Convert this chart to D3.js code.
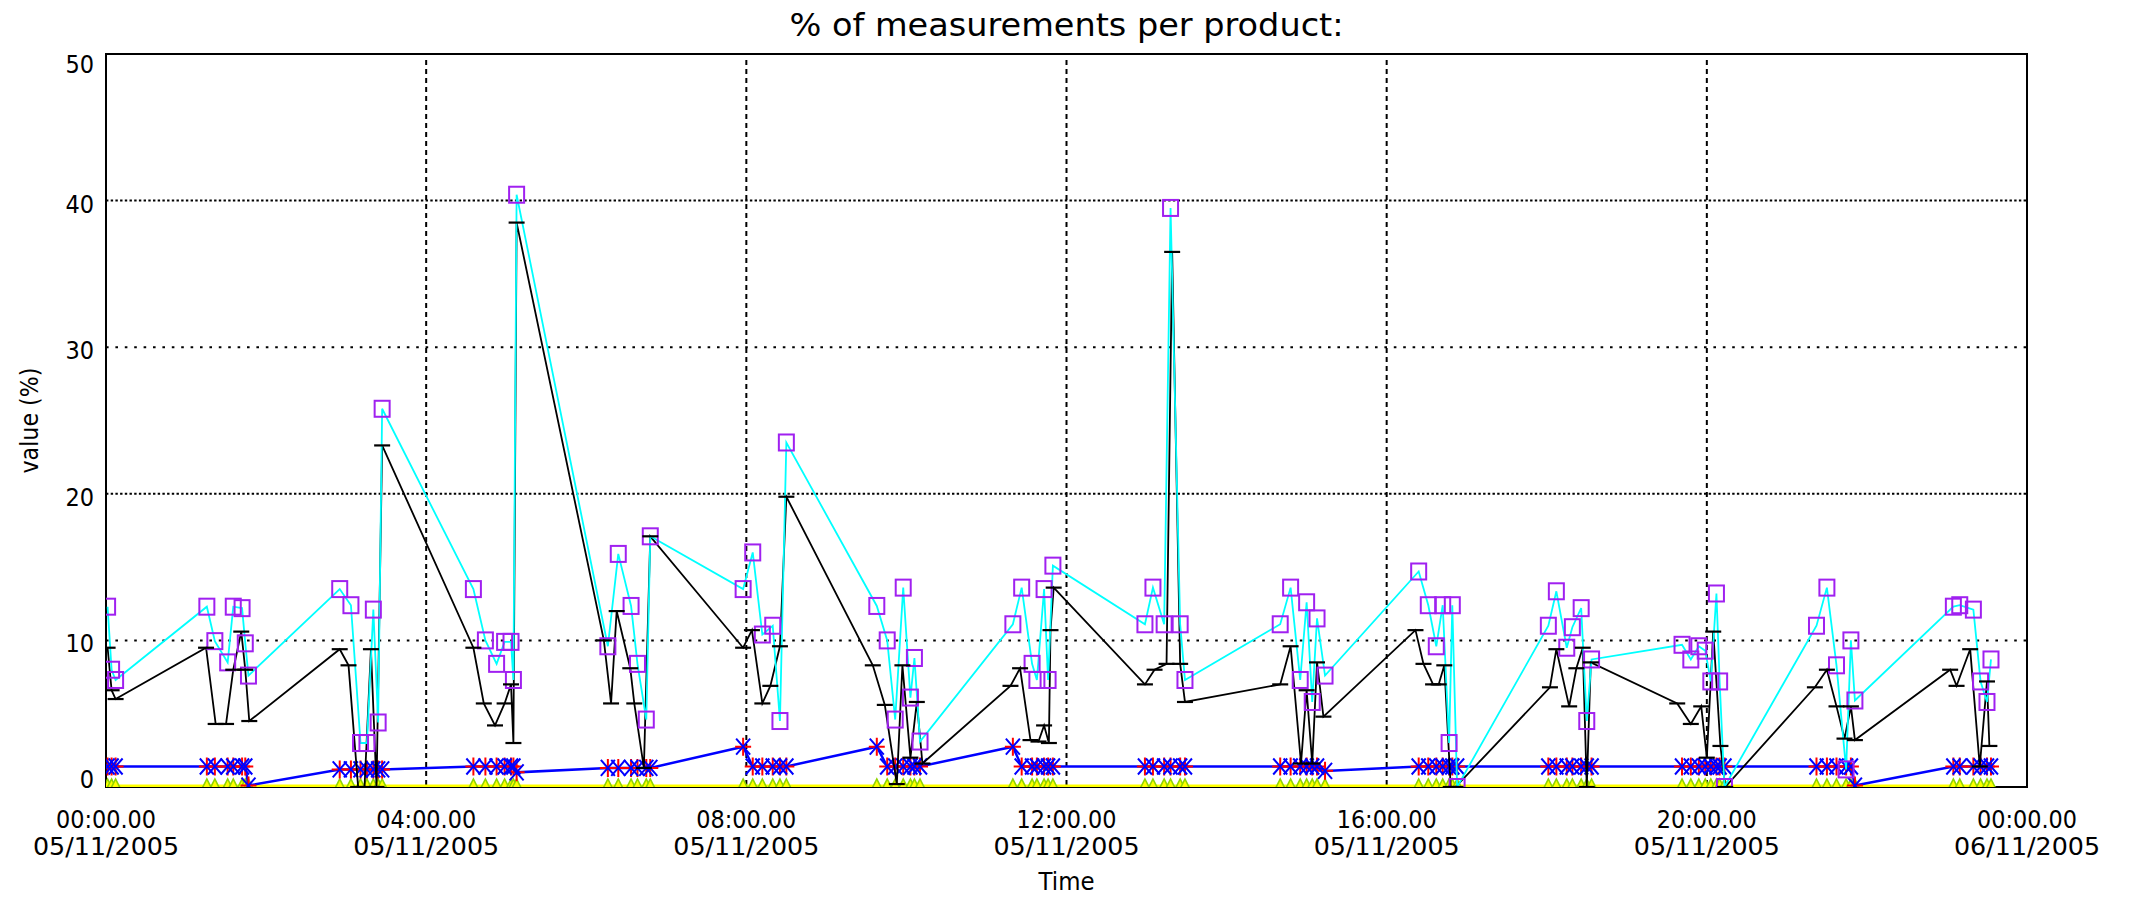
<!DOCTYPE html>
<html>
<head>
<meta charset="utf-8">
<title>% of measurements per product</title>
<script src="https://cdn.jsdelivr.net/npm/d3@7/dist/d3.min.js"></script>
<style>
  body { margin: 0; background: #fff; }
  svg { display: block; font-family: 'DejaVu Sans', sans-serif; }
</style>
</head>
<body>
<svg id="chart"></svg>
<script>
const width = 2129
const height = 910
const margin = { top: 54, right: 102, bottom: 123, left: 106 }

// sample times in hours after 00:00 on 05/11/2005 (one row per burst)
const sampleHours = [
  0.02, 0.07, 0.12,
  1.26, 1.36, 1.52, 1.59, 1.70, 1.74, 1.78,
  2.92, 3.06, 3.18, 3.26, 3.34, 3.40, 3.45,
  4.59, 4.74, 4.88, 4.98, 5.06, 5.09, 5.13,
  6.27, 6.40, 6.56, 6.64, 6.75, 6.80,
  7.96, 8.08, 8.20, 8.33, 8.42, 8.50,
  9.63, 9.76, 9.86, 9.96, 10.05, 10.10, 10.17,
  11.33, 11.44, 11.57, 11.63, 11.72, 11.77, 11.83,
  12.98, 13.08, 13.22, 13.30, 13.42, 13.48,
  14.67, 14.80, 14.92, 15.00, 15.07, 15.13, 15.23,
  16.40, 16.52, 16.62, 16.70, 16.78, 16.82, 16.88,
  18.02, 18.12, 18.25, 18.32, 18.43, 18.50, 18.56,
  19.69, 19.80, 19.90, 19.98, 20.05, 20.12, 20.16, 20.22,
  21.37, 21.50, 21.62, 21.74, 21.80, 21.85,
  23.08, 23.16, 23.33, 23.42, 23.50, 23.55
]

const cyanValues = [
  12.3, 8.0, 7.3,
  12.3, 9.95, 8.5, 12.3, 12.2, 9.8, 7.6,
  13.5, 12.4, 3.0, 3.0, 12.1, 4.4, 25.8,
  13.5, 10.0, 8.4, 9.9, 9.9, 7.3, 40.4,
  9.6, 15.9, 12.35, 8.4, 4.6, 17.1,
  13.5, 16.0, 10.4, 11.0, 4.5, 23.5,
  12.35, 10.0, 4.6, 13.6, 6.1, 8.8, 3.1,
  11.1, 13.6, 8.4, 7.3, 13.5, 7.3, 15.1,
  11.1, 13.6, 11.1, 39.5, 11.1, 7.3,
  11.1, 13.6, 7.3, 12.6, 5.8, 11.5, 7.6,
  14.7, 12.4, 9.6, 12.4, 3.0, 12.4, 0.0,
  11.0, 13.35, 9.5, 10.9, 12.2, 4.5, 8.7,
  9.7, 8.7, 9.6, 9.3, 7.2, 13.2, 7.2, 0.0,
  11.0, 13.6, 8.3, 1.2, 10.0, 5.9,
  12.3, 12.4, 12.1, 7.2, 5.8, 8.7
]

const blueValues = [
  1.4, 1.4, 1.4,
  1.4, 1.4, 1.4, 1.4, 1.4, 1.4, 0.1,
  1.2, 1.2, 1.2, 1.2, 1.2, 1.2, 1.2,
  1.4, 1.4, 1.4, 1.4, 1.4, 1.4, 1.0,
  1.3, 1.3, 1.3, 1.3, 1.3, 1.3,
  2.75, 1.4, 1.4, 1.4, 1.4, 1.4,
  2.75, 1.4, 1.4, 1.4, 1.4, 1.4, 1.4,
  2.75, 1.4, 1.4, 1.4, 1.4, 1.4, 1.4,
  1.4, 1.4, 1.4, 1.4, 1.4, 1.4,
  1.4, 1.4, 1.4, 1.4, 1.4, 1.4, 1.1,
  1.4, 1.4, 1.4, 1.4, 1.4, 1.4, 1.4,
  1.4, 1.4, 1.4, 1.4, 1.4, 1.4, 1.4,
  1.4, 1.4, 1.4, 1.4, 1.4, 1.4, 1.4, 1.4,
  1.4, 1.4, 1.4, 1.4, 1.4, 0.1,
  1.4, 1.4, 1.4, 1.4, 1.4, 1.4
]

const yellowValues = [
  0, 0, 0,
  0, 0, 0, 0, 0, 0, 0,
  0, 0, 0, 0, 0, 0, 0,
  0, 0, 0, 0, 0, 0, 0,
  0, 0, 0, 0, 0, 0,
  0, 0, 0, 0, 0, 0,
  0, 0, 0, 0, 0, 0, 0,
  0, 0, 0, 0, 0, 0, 0,
  0, 0, 0, 0, 0, 0,
  0, 0, 0, 0, 0, 0, 0,
  0, 0, 0, 0, 0, 0, 0,
  0, 0, 0, 0, 0, 0, 0,
  0, 0, 0, 0, 0, 0, 0, 0,
  0, 0, 0, 0, 0, 0,
  0, 0, 0, 0, 0, 0
]

const blackHours = [
  0.02, 0.07, 0.12,
  1.25, 1.37, 1.50, 1.59, 1.69, 1.74, 1.79,
  2.92, 3.03, 3.15, 3.23, 3.31, 3.38, 3.45,
  4.59, 4.72, 4.86, 4.98, 5.06, 5.09, 5.13,
  6.22, 6.31, 6.38, 6.55, 6.60, 6.72, 6.80,
  7.96, 8.07, 8.20, 8.30, 8.42, 8.50,
  9.58, 9.73, 9.88, 9.95, 10.05, 10.13, 10.20,
  11.30, 11.42, 11.55, 11.65, 11.72, 11.78, 11.80, 11.84,
  12.98, 13.10, 13.25, 13.32, 13.42, 13.48,
  14.67, 14.80, 14.93, 15.00, 15.07, 15.13, 15.21,
  16.36, 16.46, 16.58, 16.65, 16.72, 16.80, 16.86,
  18.04, 18.12, 18.28, 18.37, 18.45, 18.50, 18.55,
  19.63, 19.80, 19.93, 20.00, 20.08, 20.17, 20.23,
  21.35, 21.50, 21.62, 21.72, 21.80, 21.85,
  23.04, 23.12, 23.29, 23.41, 23.50, 23.53
]

const blackValues = [
  9.5, 6.6, 6.0,
  9.5, 4.3, 4.3, 8.0, 10.6, 8.0, 4.5,
  9.4, 8.3, 0.0, 0.0, 9.4, 0.0, 23.3,
  9.5, 5.7, 4.2, 5.7, 7.0, 3.0, 38.5,
  10.0, 5.7, 12.0, 8.1, 5.7, 1.3, 17.1,
  9.5, 10.7, 5.7, 6.9, 9.6, 19.8,
  8.3, 5.6, 0.2, 8.3, 2.0, 5.8, 1.6,
  6.9, 8.1, 3.2, 3.1, 4.2, 3.0, 10.7, 13.6,
  7.0, 8.0, 8.4, 36.5, 8.4, 5.8,
  7.0, 9.6, 1.6, 6.6, 1.6, 8.5, 4.8,
  10.7, 8.4, 7.0, 7.0, 8.3, 0.0, 0.0,
  6.8, 9.4, 5.5, 8.1, 9.5, 0.0, 8.5,
  5.7, 4.3, 5.5, 2.0, 10.6, 2.8, 0.0,
  6.8, 8.0, 5.5, 3.3, 5.5, 3.2,
  8.0, 6.9, 9.4, 1.4, 7.2, 2.8
]

const yTicks = [0, 10, 20, 30, 40, 50]
const titleText = '% of measurements per product:'
const xTitle = 'Time'
const yTitle = 'value (%)'

const start = new Date(2005, 10, 5)
const toTime = h => new Date(start.getTime() + h * 3600e3)

const x = d3.scaleTime()
  .domain([start, d3.timeDay.offset(start, 1)])
  .range([margin.left, width - margin.right])

const y = d3.scaleLinear()
  .domain([0, 50])
  .range([height - margin.bottom, margin.top])

const x0 = x.range()[0]
const x1 = x.range()[1]
const yBottom = y.range()[0]
const yTop = y.range()[1]

const samples = sampleHours.map((h, i) => ({
  t: toTime(h), cyan: cyanValues[i], blue: blueValues[i], yellow: yellowValues[i]
}))
const black = blackHours.map((h, i) => ({ t: toTime(h), v: blackValues[i] }))

const svg = d3.select('#chart')
  .attr('width', width)
  .attr('height', height)

svg.append('rect').attr('width', width).attr('height', height).attr('fill', '#fff')

svg.append('defs').append('clipPath').attr('id', 'plot-clip')
  .append('rect')
  .attr('x', x0).attr('y', yTop)
  .attr('width', x1 - x0).attr('height', yBottom - yTop)

// grid
const grid = svg.append('g').attr('stroke', '#000').attr('stroke-width', 2)

grid.selectAll('line.h')
  .data(yTicks.filter(v => v > 0 && v < 50))
  .enter().append('line')
  .attr('class', 'h')
  .attr('x1', x0).attr('x2', x1)
  .attr('y1', d => y(d)).attr('y2', d => y(d))
  .attr('stroke-dasharray', d => (d / 10) % 2 === 0 ? '2.4,2.3' : '2.6,6.8')

const hourTicks = x.ticks(d3.timeHour.every(4))

grid.selectAll('line.v')
  .data(hourTicks.slice(1, -1))
  .enter().append('line')
  .attr('class', 'v')
  .attr('x1', d => x(d)).attr('x2', d => x(d))
  .attr('y1', yTop + 6).attr('y2', yBottom)
  .attr('stroke-dasharray', '5,4')

// frame
svg.append('rect')
  .attr('x', x0).attr('y', yTop)
  .attr('width', x1 - x0).attr('height', yBottom - yTop)
  .attr('fill', 'none').attr('stroke', '#000').attr('stroke-width', 2)

const plot = svg.append('g').attr('clip-path', 'url(#plot-clip)')

const lineOf = key => d3.line().x(d => x(d.t)).y(d => y(d[key]))

// yellow series at zero
plot.append('path')
  .datum(samples)
  .attr('fill', 'none').attr('stroke', '#ffff00').attr('stroke-width', 5)
  .attr('d', lineOf('yellow'))

plot.append('g').selectAll('path')
  .data(samples)
  .enter().append('path')
  .attr('transform', d => `translate(${x(d.t)},${y(d.yellow)})`)
  .attr('d', 'M-8,8L0,-8L8,8Z')
  .attr('fill', '#ffff00').attr('stroke', '#8fd400').attr('stroke-width', 1.6)

// blue series with asterisks
plot.append('path')
  .datum(samples)
  .attr('fill', 'none').attr('stroke', '#0000ff').attr('stroke-width', 2.5)
  .attr('d', lineOf('blue'))

plot.append('g').selectAll('path')
  .data(samples)
  .enter().append('path')
  .attr('transform', d => `translate(${x(d.t)},${y(d.blue)})`)
  .attr('d', 'M0,-9V9M-8,0H8')
  .attr('stroke', '#ff0000').attr('stroke-width', 2)

plot.append('g').selectAll('path')
  .data(samples)
  .enter().append('path')
  .attr('transform', d => `translate(${x(d.t)},${y(d.blue)})`)
  .attr('d', 'M-7,-8L7,8M7,-8L-7,8')
  .attr('stroke', '#0000ff').attr('stroke-width', 2)

// black series
plot.append('path')
  .datum(black)
  .attr('fill', 'none').attr('stroke', '#000').attr('stroke-width', 1.8)
  .attr('d', d3.line().x(d => x(d.t)).y(d => y(d.v)))

// cyan series with squares
plot.append('path')
  .datum(samples)
  .attr('fill', 'none').attr('stroke', '#00ffff').attr('stroke-width', 1.8)
  .attr('d', lineOf('cyan'))

plot.append('g').selectAll('rect')
  .data(samples)
  .enter().append('rect')
  .attr('x', d => x(d.t) - 7.5).attr('y', d => y(d.cyan) - 8)
  .attr('width', 15).attr('height', 16)
  .attr('fill', 'none').attr('stroke', '#a020f0').attr('stroke-width', 2)

// black caps
plot.append('g').selectAll('path')
  .data(black)
  .enter().append('path')
  .attr('transform', d => `translate(${x(d.t)},${y(d.v)})`)
  .attr('d', 'M-8,0H8')
  .attr('stroke', '#000').attr('stroke-width', 2.2)

// labels
const fmtTime = d3.timeFormat('%H:%M.%S')
const fmtDate = d3.timeFormat('%d/%m/%Y')

const xLabels = svg.append('g').attr('font-size', 25).attr('text-anchor', 'middle').attr('fill', '#000')
hourTicks.forEach(t => {
  xLabels.append('text')
    .attr('x', x(t)).attr('y', 828)
    .attr('textLength', 100).attr('lengthAdjust', 'spacingAndGlyphs')
    .text(fmtTime(t))
  xLabels.append('text')
    .attr('x', x(t)).attr('y', 855)
    .attr('textLength', 146).attr('lengthAdjust', 'spacingAndGlyphs')
    .text(fmtDate(t))
})

svg.append('g').attr('font-size', 25).attr('text-anchor', 'end')
  .selectAll('text')
  .data(yTicks)
  .enter().append('text')
  .attr('x', x0 - 12)
  .attr('y', d => y(d) + (d === 50 ? 19 : d === 0 ? 1 : 12))
  .attr('textLength', d => String(d).length * 14.3)
  .attr('lengthAdjust', 'spacingAndGlyphs')
  .text(d => d)

svg.append('text')
  .attr('x', (x0 + x1) / 2).attr('y', 36)
  .attr('font-size', 32).attr('text-anchor', 'middle')
  .attr('textLength', 554).attr('lengthAdjust', 'spacingAndGlyphs')
  .text(titleText)

svg.append('text')
  .attr('x', (x0 + x1) / 2).attr('y', 890)
  .attr('font-size', 25).attr('text-anchor', 'middle')
  .attr('textLength', 56).attr('lengthAdjust', 'spacingAndGlyphs')
  .text(xTitle)

svg.append('text')
  .attr('transform', `translate(38,${(yTop + yBottom) / 2}) rotate(-90)`)
  .attr('font-size', 25).attr('text-anchor', 'middle')
  .attr('textLength', 106).attr('lengthAdjust', 'spacingAndGlyphs')
  .text(yTitle)
</script>
</body>
</html>
